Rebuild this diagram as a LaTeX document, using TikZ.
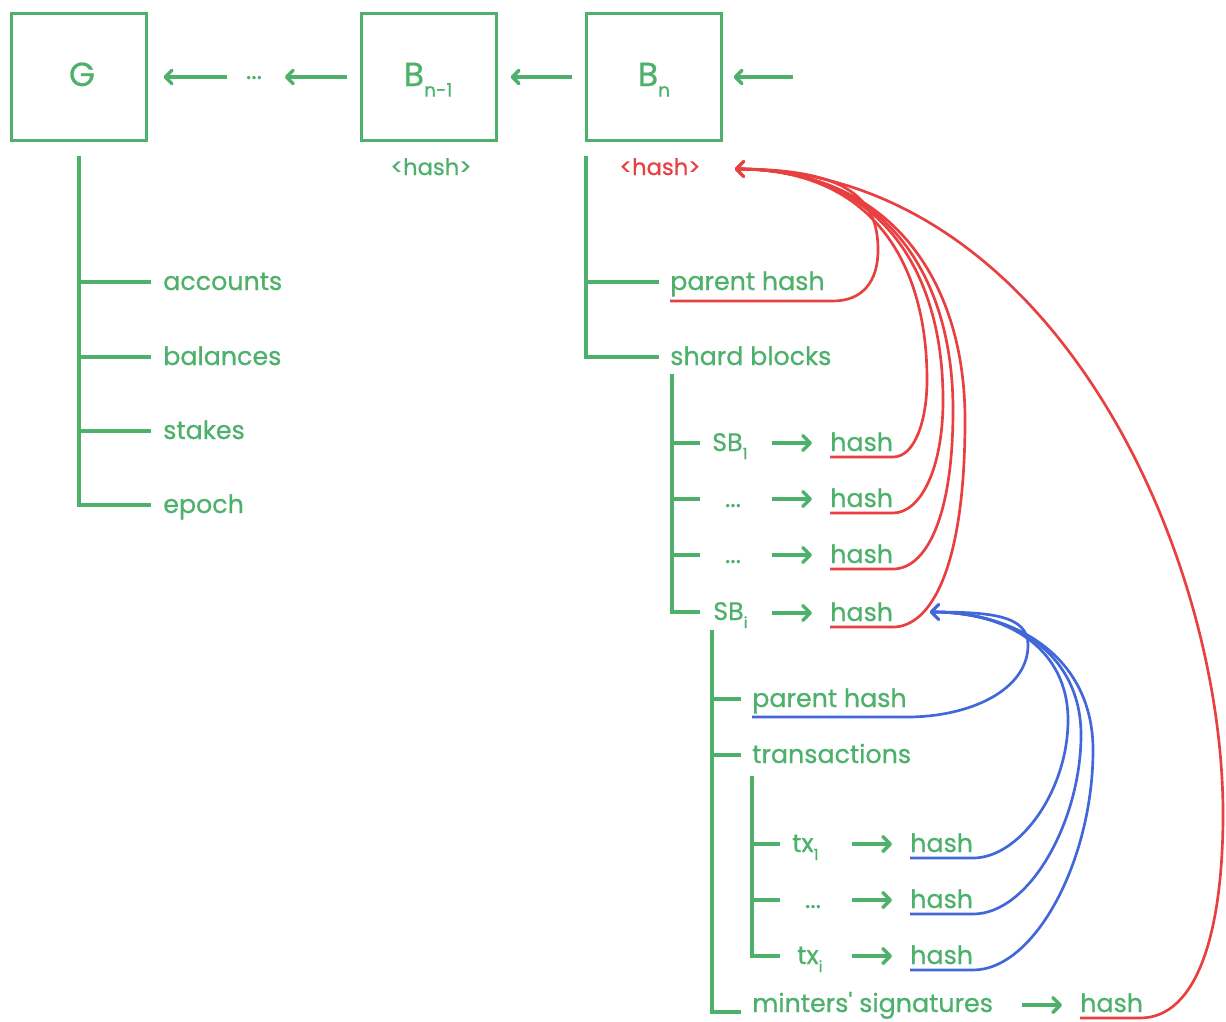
\documentclass[tikz,border=0pt]{standalone}
\usepackage{fontspec}
\setmainfont{Poppins}[FakeBold=0.6]
\usetikzlibrary{arrows.meta,calc}
\definecolor{chaingreen}{RGB}{77,176,107}
\definecolor{hashred}{RGB}{232,64,64}
\definecolor{hashblue}{RGB}{66,103,216}
% small lowered indices
\newcommand\blocksub[1]{\raisebox{-8pt}{\fontsize{14}{15}\selectfont #1}}
\newcommand\itemsub[1]{\raisebox{-6pt}{\fontsize{11.5}{12}\selectfont #1}}
% one branch of a tree: spine, label node, length (px), rise above the label baseline (px)
\newcommand\twig[4]{%
  \path ($(#2.base west)+(0,-#4)$) coordinate (tw);
  \draw[tree] (#1 |- tw) -- ++(#3,0);}
\begin{document}
\begin{tikzpicture}[x=0.75pt,y=-0.75pt,
  block/.style={draw=chaingreen, line width=2.3pt, minimum width=101.25pt, minimum height=95.25pt, inner sep=0pt},
  blocklbl/.style={text=chaingreen, font=\fontsize{25}{28}\selectfont, inner sep=0pt, anchor=base},
  lbl/.style={text=chaingreen, font=\fontsize{19}{23}\selectfont, inner sep=0pt, anchor=base west},
  dotlbl/.style={text=chaingreen, font=\fontsize{19}{23}\selectfont, inner sep=0pt, anchor=base},
  hashtag/.style={font=\fontsize{17}{20}\selectfont, inner sep=0pt, anchor=base},
  tree/.style={draw=chaingreen, line width=2.3pt, line cap=rect},
  link/.style={draw=chaingreen, line width=2.6pt, -{Straight Barb[round,length=5pt,width=10pt]}},
  ptr/.style={draw=chaingreen, line width=2.6pt, -{Straight Barb[round,length=5.5pt,width=11pt]}},
  redref/.style={draw=hashred, line width=2pt, -{Straight Barb[round,length=5.5pt,width=11pt]}},
  blueref/.style={draw=hashblue, line width=2pt, -{Straight Barb[round,length=5.5pt,width=11pt]}}]

\fill[white] (0,0) rectangle (1226,1021);
\useasboundingbox (0,0) rectangle (1226,1021);

% ---- chain of blocks ----
\node[block] (G)  at (79,77)  {};
\node[block] (Bp) at (429,77) {};
\node[block] (Bn) at (654,77) {};
\node[blocklbl] (Gt)  at (82,86)  {G};
\node[blocklbl] (Bpt) at (428,86) {B\blocksub{n-1}};
\node[blocklbl] (Bnt) at (654,86) {B\blocksub{n}};
\node[dotlbl] (dots0) at (254,79) {...};
\coordinate (nextblk) at (793,77);

\draw[link, shorten <=13.9pt, shorten >=11.6pt] (G.east -| dots0.west) -- (G.east);
\draw[link, shorten <=9.4pt, shorten >=16.9pt] (Bp.west) -- (Bp.west -| dots0.east);
\draw[link, shorten <=10.1pt, shorten >=9.4pt] (Bn.west) -- (Bp.east);
\draw[link, shorten >=7.9pt] (nextblk) -- (Bn.east);

\node[hashtag, text=chaingreen] (hp) at (431,175) {<hash>};
\node[hashtag, text=hashred]    (hn) at (660,175) {<hash>};
\coordinate (rtip) at (735,169);

% ---- genesis state ----
\coordinate (gS) at (79,158);
\node[lbl] (acc) at (163,290) {accounts};
\node[lbl] (bal) at (163,365) {balances};
\node[lbl] (stk) at (163,439) {stakes};
\node[lbl] (epo) at (163,513) {epoch};
\twig{gS}{acc}{70}{8}
\twig{gS}{bal}{70}{8}
\twig{gS}{stk}{70}{8}
\twig{gS}{epo}{70}{8}
\draw[tree] (gS) -- (gS |- tw);

% ---- block B_n ----
\coordinate (bS) at (586,158);
\node[lbl] (ph1) at (670,290) {parent hash};
\node[lbl] (shb) at (670,365) {shard blocks};
\twig{bS}{ph1}{71}{8}
\twig{bS}{shb}{71}{8}
\draw[tree] (bS) -- (bS |- tw);

% ---- shard blocks ----
\coordinate (sS) at (672,376);
\node[lbl] (sb1) at (712,451) {SB\itemsub{1}};
\node[dotlbl] (d1) at (733,507) {...};
\node[dotlbl] (d2) at (733,563) {...};
\node[lbl] (sbi) at (713,620) {SB\itemsub{i}};
\twig{sS}{sb1}{26}{8}
\twig{sS}{d1}{26}{8}
\twig{sS}{d2}{26}{8}
\twig{sS}{sbi}{26}{8}
\draw[tree] (sS) -- (sS |- tw);

\node[lbl] (h1) at (830,451) {hash};
\node[lbl] (h2) at (830,507) {hash};
\node[lbl] (h3) at (830,563) {hash};
\node[lbl] (h4) at (830,621) {hash};
\foreach \h in {h1,h2,h3,h4}
  \draw[ptr] ($(\h.base west)+(-58,-8)$) -- ++(40,0);

% ---- shard block SB_i ----
\coordinate (iS) at (712,632);
\node[lbl] (ph2) at (752,707) {parent hash};
\node[lbl] (trn) at (752,763) {transactions};
\node[lbl] (mins) at (752,1012) {minters\textquotesingle\ signatures};
\twig{iS}{ph2}{27}{8}
\twig{iS}{trn}{27}{8}
\twig{iS}{mins}{27}{0}
\draw[tree] (iS) -- (iS |- tw);
\node[lbl] (mh) at (1080,1012) {hash};
\draw[ptr] ($(mh.base west)+(-58,-7)$) -- ++(40,0);

% ---- transactions ----
\coordinate (tS) at (752,778);
\node[lbl] (tx1) at (792,852) {tx\itemsub{1}};
\node[dotlbl] (d3) at (813,908) {...};
\node[lbl] (txi) at (797,964) {tx\itemsub{i}};
\twig{tS}{tx1}{26}{8}
\twig{tS}{d3}{26}{8}
\twig{tS}{txi}{26}{8}
\draw[tree] (tS) -- (tS |- tw);

\node[lbl] (th1) at (910,852) {hash};
\node[lbl] (th2) at (910,908) {hash};
\node[lbl] (th3) at (910,964) {hash};
\foreach \h in {th1,th2,th3}
  \draw[ptr] ($(\h.base west)+(-58,-8)$) -- ++(40,0);

\coordinate (btip) at (930,612);

% ---- hash references into <hash> of B_n ----
\draw[redref] ($(ph1.base west)+(0,11)$) -- (833,301)
  .. controls (862,301) and (878,282) .. (878,250)
  .. controls (878,200) and (850,169) .. (rtip);
\draw[redref] ($(h1.base west)+(0,6)$) -- ++(63,0)
  .. controls (915,457) and (927,420) .. (927,380)
  .. controls (927,260) and (870,169) .. (rtip);
\draw[redref] ($(h2.base west)+(0,6)$) -- ++(63,0)
  .. controls (920,513) and (943,470) .. (943,400)
  .. controls (943,270) and (880,169) .. (rtip);
\draw[redref] ($(h3.base west)+(0,6)$) -- ++(63,0)
  .. controls (925,569) and (953,520) .. (953,410)
  .. controls (953,275) and (885,169) .. (rtip);
\draw[redref] ($(h4.base west)+(0,6)$) -- ++(63,0)
  .. controls (930,627) and (965,570) .. (965,420)
  .. controls (965,280) and (890,169) .. (rtip);
\draw[redref] ($(mh.base west)+(0,6)$) -- ++(60,0)
  .. controls (1198,1018) and (1223,930) .. (1223,814)
  .. controls (1223,550) and (1050,169) .. (rtip);

% ---- hash references into the hash of SB_i ----
\draw[blueref] ($(ph2.base west)+(0,10)$) -- ++(155,0)
  .. controls (970,717) and (1028,690) .. (1028,645)
  .. controls (1028,615) and (990,612) .. (btip);
\draw[blueref] ($(th1.base west)+(0,6)$) -- ++(63,0)
  .. controls (1020,858) and (1068,790) .. (1068,720)
  .. controls (1068,650) and (1010,612) .. (btip);
\draw[blueref] ($(th2.base west)+(0,6)$) -- ++(63,0)
  .. controls (1030,914) and (1081,820) .. (1081,735)
  .. controls (1081,655) and (1015,612) .. (btip);
\draw[blueref] ($(th3.base west)+(0,6)$) -- ++(63,0)
  .. controls (1035,970) and (1093,860) .. (1093,750)
  .. controls (1093,660) and (1020,612) .. (btip);
\end{tikzpicture}
\end{document}
